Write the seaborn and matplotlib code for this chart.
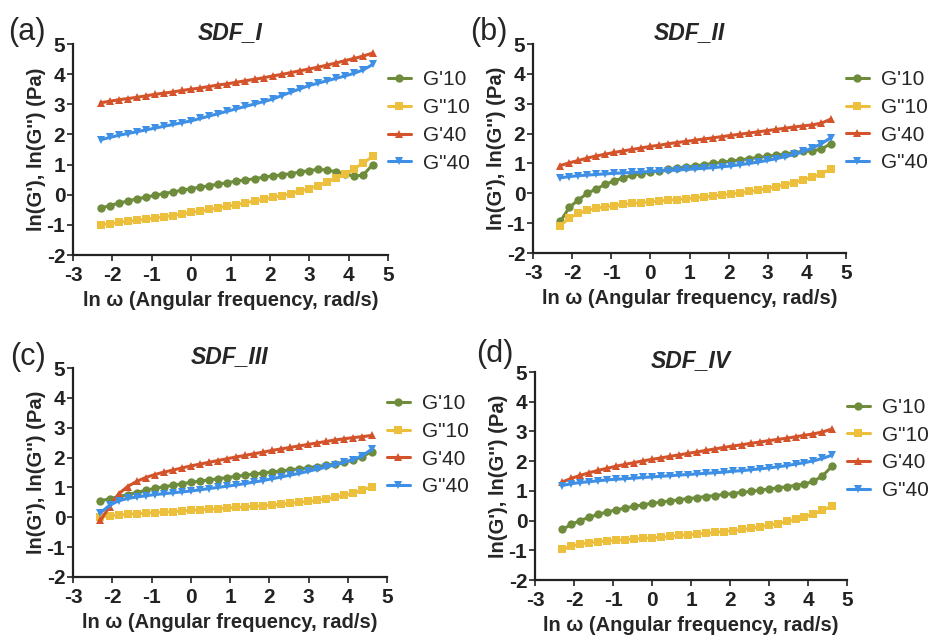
import numpy as np
import pandas as pd
import matplotlib
matplotlib.use("Agg")
import matplotlib.pyplot as plt
import seaborn as sns

sns.set_theme(style="ticks")
plt.rcParams['font.family'] = ['Liberation Sans', 'DejaVu Sans']

# ln(omega), 31 frequencies from 0.1 to 100 rad/s
ln_omega = [-2.30, -2.07, -1.84, -1.61, -1.38, -1.15, -0.92, -0.69, -0.46, -0.23,
            0.00, 0.23, 0.46, 0.69, 0.92, 1.15, 1.38, 1.61, 1.84, 2.07,
            2.30, 2.53, 2.76, 2.99, 3.22, 3.45, 3.68, 3.91, 4.14, 4.37, 4.61]

series_names = ["G'10", 'G"10', "G'40", 'G"40']
panel_titles = ["SDF_I", "SDF_II", "SDF_III", "SDF_IV"]
panel_tags = ["(a)", "(b)", "(c)", "(d)"]

# Panel (a) SDF_I
a_Gp10 = [-0.45, -0.36, -0.28, -0.21, -0.14, -0.08, -0.02, 0.04, 0.09, 0.15,
          0.20, 0.25, 0.30, 0.35, 0.40, 0.45, 0.49, 0.53, 0.58, 0.62,
          0.66, 0.70, 0.75, 0.80, 0.84, 0.82, 0.76, 0.68, 0.62, 0.65, 1.00]
a_Gpp10 = [-1.00, -0.96, -0.92, -0.88, -0.85, -0.81, -0.77, -0.73, -0.69, -0.64,
           -0.59, -0.54, -0.49, -0.43, -0.38, -0.33, -0.27, -0.21, -0.15, -0.09,
           -0.03, 0.04, 0.12, 0.20, 0.30, 0.42, 0.55, 0.68, 0.86, 1.05, 1.27]
a_Gp40 = [3.05, 3.10, 3.15, 3.19, 3.23, 3.28, 3.33, 3.37, 3.41, 3.46,
          3.50, 3.54, 3.59, 3.64, 3.68, 3.73, 3.78, 3.83, 3.88, 3.94,
          3.99, 4.05, 4.11, 4.17, 4.23, 4.30, 4.37, 4.45, 4.52, 4.60, 4.70]
a_Gpp40 = [1.82, 1.90, 1.97, 2.03, 2.09, 2.15, 2.21, 2.27, 2.33, 2.39,
           2.45, 2.53, 2.61, 2.69, 2.77, 2.85, 2.93, 3.01, 3.09, 3.17,
           3.29, 3.40, 3.51, 3.62, 3.70, 3.78, 3.86, 3.94, 4.03, 4.14, 4.32]

# Panel (b) SDF_II
b_Gp10 = [-0.94, -0.47, -0.22, 0.00, 0.15, 0.30, 0.42, 0.52, 0.60, 0.66,
          0.71, 0.75, 0.80, 0.84, 0.88, 0.92, 0.96, 1.00, 1.04, 1.08,
          1.12, 1.16, 1.20, 1.24, 1.28, 1.32, 1.36, 1.40, 1.42, 1.48, 1.66]
b_Gpp10 = [-1.08, -0.83, -0.67, -0.57, -0.50, -0.45, -0.41, -0.37, -0.34, -0.31,
           -0.28, -0.26, -0.23, -0.21, -0.18, -0.15, -0.12, -0.09, -0.05, -0.02,
           0.02, 0.06, 0.11, 0.16, 0.22, 0.29, 0.36, 0.45, 0.54, 0.66, 0.81]
b_Gp40 = [0.93, 1.02, 1.10, 1.18, 1.25, 1.31, 1.37, 1.42, 1.47, 1.52,
          1.57, 1.61, 1.66, 1.70, 1.74, 1.78, 1.82, 1.86, 1.90, 1.94,
          1.98, 2.02, 2.06, 2.10, 2.14, 2.18, 2.22, 2.26, 2.29, 2.35, 2.48]
b_Gpp40 = [0.52, 0.56, 0.59, 0.61, 0.63, 0.65, 0.67, 0.68, 0.70, 0.71,
           0.73, 0.75, 0.76, 0.78, 0.80, 0.82, 0.84, 0.86, 0.89, 0.92,
           0.96, 1.00, 1.05, 1.10, 1.16, 1.23, 1.30, 1.40, 1.52, 1.66, 1.86]

# Panel (c) SDF_III
c_Gp10 = [0.55, 0.62, 0.69, 0.76, 0.83, 0.90, 0.97, 1.02, 1.07, 1.12,
          1.17, 1.21, 1.25, 1.29, 1.33, 1.37, 1.41, 1.45, 1.48, 1.52,
          1.55, 1.59, 1.62, 1.66, 1.70, 1.74, 1.79, 1.85, 1.92, 2.03, 2.20]
c_Gpp10 = [0.00, 0.05, 0.08, 0.10, 0.12, 0.14, 0.16, 0.17, 0.19, 0.21,
           0.23, 0.25, 0.27, 0.29, 0.31, 0.33, 0.35, 0.37, 0.39, 0.41,
           0.44, 0.47, 0.50, 0.53, 0.57, 0.62, 0.67, 0.73, 0.81, 0.90, 1.03]
c_Gp40 = [-0.10, 0.35, 0.78, 1.03, 1.20, 1.33, 1.43, 1.51, 1.58, 1.65,
          1.72, 1.78, 1.84, 1.90, 1.96, 2.02, 2.07, 2.13, 2.18, 2.24,
          2.29, 2.34, 2.39, 2.44, 2.49, 2.54, 2.59, 2.63, 2.67, 2.70, 2.74]
c_Gpp40 = [0.15, 0.40, 0.55, 0.63, 0.68, 0.72, 0.76, 0.79, 0.82, 0.85,
           0.88, 0.92, 0.96, 1.00, 1.04, 1.08, 1.13, 1.18, 1.23, 1.29,
           1.35, 1.41, 1.47, 1.54, 1.61, 1.68, 1.76, 1.84, 1.93, 2.06, 2.28]

# Panel (d) SDF_IV
d_Gp10 = [-0.30, -0.13, 0.00, 0.11, 0.21, 0.29, 0.36, 0.42, 0.48, 0.53,
          0.58, 0.62, 0.66, 0.70, 0.74, 0.77, 0.81, 0.84, 0.88, 0.91,
          0.95, 0.98, 1.02, 1.06, 1.10, 1.14, 1.18, 1.23, 1.32, 1.50, 1.82]
d_Gpp10 = [-0.97, -0.86, -0.79, -0.74, -0.71, -0.68, -0.66, -0.64, -0.62, -0.60,
           -0.58, -0.56, -0.53, -0.50, -0.48, -0.45, -0.43, -0.40, -0.37, -0.34,
           -0.30, -0.26, -0.21, -0.16, -0.10, -0.03, 0.04, 0.12, 0.22, 0.34, 0.49]
d_Gp40 = [1.30, 1.42, 1.52, 1.61, 1.69, 1.76, 1.83, 1.89, 1.95, 2.01,
          2.06, 2.11, 2.16, 2.21, 2.26, 2.31, 2.36, 2.41, 2.46, 2.51,
          2.55, 2.60, 2.64, 2.69, 2.73, 2.77, 2.82, 2.87, 2.92, 2.98, 3.08]
d_Gpp40 = [1.18, 1.24, 1.28, 1.31, 1.34, 1.37, 1.39, 1.41, 1.43, 1.45,
           1.47, 1.49, 1.51, 1.53, 1.55, 1.57, 1.59, 1.61, 1.63, 1.66,
           1.68, 1.71, 1.74, 1.77, 1.81, 1.85, 1.90, 1.95, 2.01, 2.09, 2.20]

panels = [
    [a_Gp10, a_Gpp10, a_Gp40, a_Gpp40],
    [b_Gp10, b_Gpp10, b_Gp40, b_Gpp40],
    [c_Gp10, c_Gpp10, c_Gp40, c_Gpp40],
    [d_Gp10, d_Gpp10, d_Gp40, d_Gpp40],
]

x_ticks = [-3, -2, -1, 0, 1, 2, 3, 4, 5]
y_ticks = [-2, -1, 0, 1, 2, 3, 4, 5]

palette = {"G'10": "#6f8c3c", 'G"10': "#ecc03c", "G'40": "#d4532a", 'G"40': "#3e8fe6"}
markers = {"G'10": "o", 'G"10': "s", "G'40": "^", 'G"40': "v"}

W, H = 930, 637
fig = plt.figure(figsize=(W / 100, H / 100), dpi=100)

# axes boxes in pixels: left, top, right, bottom
boxes = [(73, 44, 388, 255), (533, 44, 846, 253), (73, 368, 387, 577), (535, 372, 847, 580)]
tag_pos = [(8, 32), (470, 32), (10, 357), (476, 354)]

for i, (box, vals) in enumerate(zip(boxes, panels)):
    l, t, r, b = box
    ax = fig.add_axes([l / W, 1 - b / H, (r - l) / W, (b - t) / H])
    frames = []
    for name, v in zip(series_names, vals):
        frames.append(pd.DataFrame({"x": ln_omega, "y": v, "series": name}))
    df = pd.concat(frames, ignore_index=True)
    sns.lineplot(data=df, x="x", y="y", hue="series", style="series",
                 hue_order=series_names, style_order=series_names,
                 palette=palette, markers=markers, dashes=False,
                 linewidth=2.2, markersize=6, markeredgewidth=0,
                 ax=ax, legend=True, sort=False)
    ax.set_xlim(-3, 5)
    ax.set_ylim(-2, 5)
    ax.set_xticks(x_ticks)
    ax.set_yticks(y_ticks)
    ax.set_xticklabels([str(v) for v in x_ticks], fontsize=15, fontweight='bold')
    ax.set_yticklabels([str(v) for v in y_ticks], fontsize=15, fontweight='bold')
    ax.tick_params(axis='x', direction='out', length=4, width=1.2, pad=4, colors='#222222')
    ax.tick_params(axis='y', direction='out', length=4, width=1.2, pad=1.5, colors='#222222')
    for s in ["top", "right"]:
        ax.spines[s].set_visible(False)
    for s in ["left", "bottom"]:
        ax.spines[s].set_linewidth(1.6)
        ax.spines[s].set_color('#222222')
    ax.set_xlabel("ln ω (Angular frequency, rad/s)", fontsize=14.5, fontweight='bold', labelpad=4)
    ax.set_ylabel("ln(G'), ln(G'') (Pa)", fontsize=14.5, fontweight='bold', labelpad=0.5)
    ax.set_title(panel_titles[i], fontsize=16.5, fontweight='bold', style='italic', pad=-1)
    handles, labels = ax.get_legend_handles_labels()
    ax.legend(handles, labels, loc='upper left', bbox_to_anchor=(1.0, 0.875),
              frameon=False, fontsize=15, handlelength=1.1, handletextpad=0.6,
              labelspacing=0.42, borderaxespad=0, borderpad=0)
    tx, ty = tag_pos[i]
    fig.text(tx / W, 1 - ty / H, panel_tags[i], fontsize=22,
             ha='left', va='center')

fig.savefig("out.png", dpi=100)
